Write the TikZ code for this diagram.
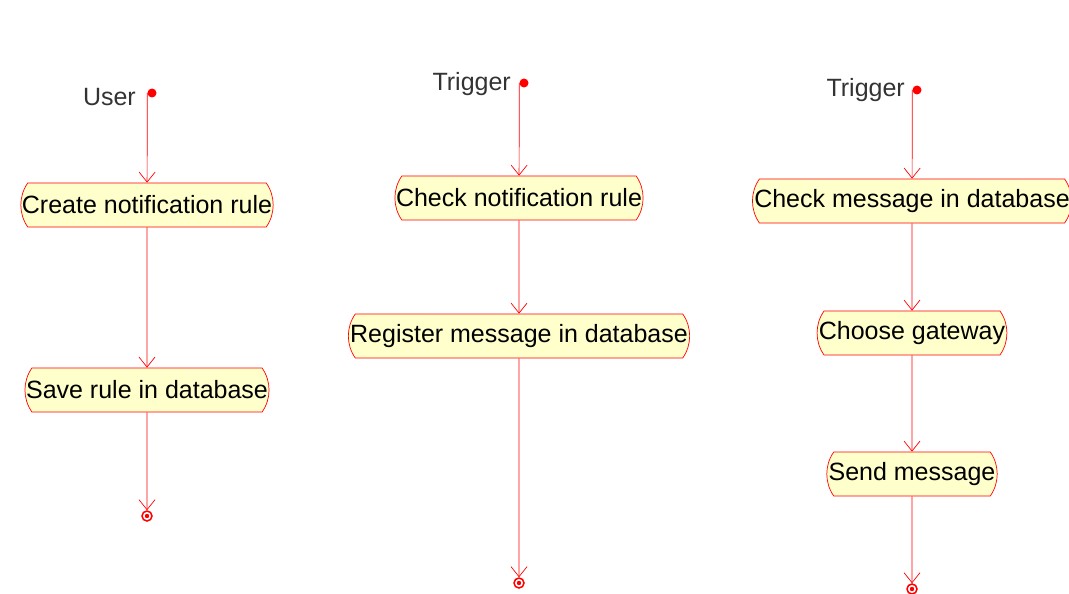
\documentclass[tikz,border=0pt]{standalone}
\usepackage{fontspec}
\setmainfont{Liberation Sans}
\usetikzlibrary{arrows.meta,shapes.misc}

\definecolor{umlred}{rgb}{1,0,0}
\definecolor{umlfill}{rgb}{1,1,0.8}
\definecolor{umltext}{rgb}{0.2,0.2,0.2}

\begin{document}
\begin{tikzpicture}[x=1pt, y=-1pt,
    activity/.style={rounded rectangle, rounded rectangle arc length=70, draw=umlred, fill=umlfill,
        line width=0.7pt, minimum height=44pt, inner xsep=0pt, font=\fontsize{25}{29}\selectfont},
    startdot/.style={circle, fill=umlred, inner sep=0pt, minimum size=9pt},
    enddot/.style={circle, draw=umlred, line width=1.5pt, fill=white, inner sep=0pt, minimum size=10pt,
        path picture={\fill[umlred] (path picture bounding box.center) circle (2.2pt);}},
    actor/.style={anchor=base east, text=umltext, inner sep=0pt, font=\fontsize{25}{29}\selectfont},
    flow/.style={draw=umlred, line width=0.7pt, -{Straight Barb[length=10pt, width=16pt, line width=0.7pt]}}]
            \useasboundingbox (0,0) rectangle (1069,594);

            % user column
            \node[startdot] (s1) at (152,93) {};
            \node[actor] (u1) at (136,106) {User};
            \node[activity] (a1) at (147,205) {Create notification rule};
            \node[activity] (a2) at (147,390) {Save rule in database};
            \node[enddot] (e1) at (147,516) {};

            % trigger column: rule
            \node[startdot] (s2) at (524,83) {};
            \node[actor] (u2) at (511,91) {Trigger};
            \node[activity] (b1) at (519,198) {Check notification rule};
            \node[activity] (b2) at (519,336) {Register message in database};
            \node[enddot] (e2) at (519,583) {};

            % trigger column: sending
            \node[startdot] (s3) at (917,90) {};
            \node[actor] (u3) at (905,96) {Trigger};
            \node[activity] (c1) at (912,201) {Check message in database};
            \node[activity] (c2) at (912,333) {Choose gateway};
            \node[activity] (c3) at (912,474) {Send message};
            \node[enddot] (e3) at (912,589) {};

            \draw[flow] (s1.west) -- (a1);
            \draw[flow] (a1) -- (a2);
            \draw[flow] (a2) -- (e1);
            \draw[flow] (s2.west) -- (b1);
            \draw[flow] (b1) -- (b2);
            \draw[flow] (b2) -- (e2);
            \draw[flow] (s3.west) -- (c1);
            \draw[flow] (c1) -- (c2);
            \draw[flow] (c2) -- (c3);
            \draw[flow] (c3) -- (e3);
        \end{tikzpicture}
\end{document}
